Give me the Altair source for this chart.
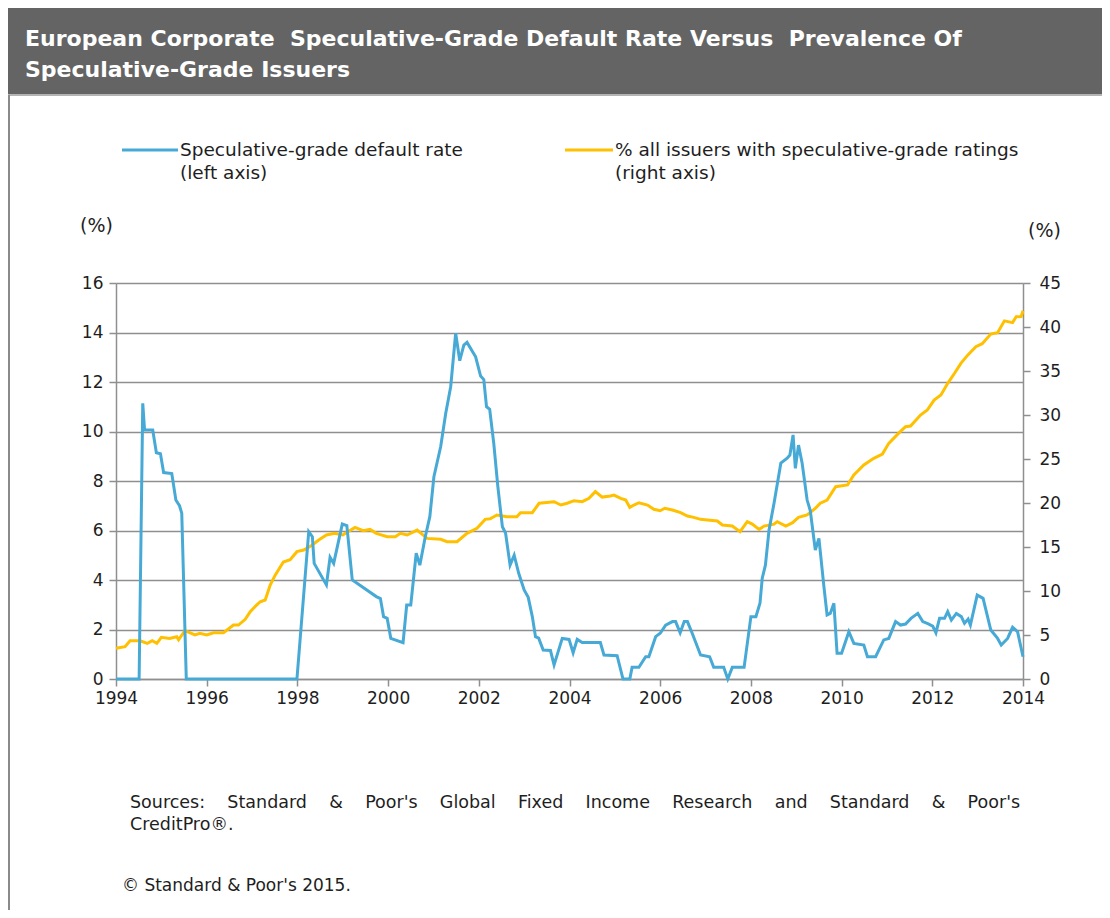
import altair as alt
import pandas as pd

FONT = "DejaVu Sans"
NB = "\u00a0"

TITLE_LINES = [
    "European Corporate" + NB + " Speculative-Grade Default Rate Versus" + NB + " Prevalence Of",
    "Speculative-Grade Issuers",
]
SERIES_LABELS = [
    "Speculative-grade default rate\n(left axis)",
    "% all issuers with speculative-grade ratings\n(right axis)",
]
SOURCE_WORDS = ["Sources:", "Standard", "&", "Poor's", "Global", "Fixed", "Income",
                "Research", "and", "Standard", "&", "Poor's"]
SOURCE_LINE2 = "CreditPro®."
COPYRIGHT_TEXT = "© Standard & Poor's 2015."
AXIS_UNIT = "(%)"

X_TICKS = list(range(1994, 2015, 2))
LEFT_TICKS = list(range(0, 17, 2))
RIGHT_TICKS = list(range(0, 46, 5))

default_year = [
    1994.0, 1994.51, 1994.59, 1994.63, 1994.81, 1994.89, 1994.98, 1995.05, 1995.23, 1995.32,
    1995.4, 1995.45, 1995.55, 1997.99, 1998.25, 1998.33, 1998.37, 1998.64, 1998.72, 1998.8,
    1998.99, 1999.09, 1999.21, 1999.74, 1999.83, 1999.9, 1999.98, 2000.06, 2000.33, 2000.41,
    2000.5, 2000.62, 2000.7, 2000.82, 2000.92, 2001.01, 2001.16, 2001.27, 2001.38, 2001.49,
    2001.58, 2001.67, 2001.74, 2001.93, 2002.04, 2002.11, 2002.17, 2002.24, 2002.33, 2002.42,
    2002.52, 2002.59, 2002.69, 2002.78, 2002.88, 2003.0, 2003.09, 2003.18, 2003.25, 2003.32,
    2003.42, 2003.58, 2003.66, 2003.84, 2003.99, 2004.08, 2004.17, 2004.28, 2004.68, 2004.76,
    2005.05, 2005.18, 2005.33, 2005.38, 2005.53, 2005.68, 2005.75, 2005.9, 2006.0, 2006.12,
    2006.27, 2006.34, 2006.44, 2006.53, 2006.6, 2006.71, 2006.89, 2007.09, 2007.18, 2007.4,
    2007.49, 2007.59, 2007.85, 2008.0, 2008.11, 2008.2, 2008.25, 2008.32, 2008.4, 2008.51,
    2008.66, 2008.8, 2008.86, 2008.93, 2008.98, 2009.05, 2009.13, 2009.24, 2009.31, 2009.42,
    2009.5, 2009.61, 2009.68, 2009.75, 2009.83, 2009.9, 2010.0, 2010.16, 2010.27, 2010.49,
    2010.57, 2010.75, 2010.93, 2011.04, 2011.19, 2011.3, 2011.41, 2011.53, 2011.68, 2011.79,
    2011.9, 2012.01, 2012.08, 2012.16, 2012.27, 2012.34, 2012.42, 2012.53, 2012.64, 2012.71,
    2012.79, 2012.84, 2012.99, 2013.12, 2013.29, 2013.44, 2013.52, 2013.66, 2013.77, 2013.88,
    2014.0,
]
default_rate = [
    0, 0, 11.14, 10.06, 10.06, 9.14, 9.1, 8.34, 8.3, 7.23,
    7.0, 6.7, 0, 0, 5.95, 5.75, 4.67, 3.8, 4.92, 4.67,
    6.26, 6.2, 4.0, 3.33, 3.25, 2.52, 2.45, 1.64, 1.47, 2.99,
    2.99, 5.08, 4.6, 5.75, 6.56, 8.17, 9.39, 10.73, 11.81, 13.97,
    12.86, 13.49, 13.6, 13.02, 12.24, 12.1, 11.0, 10.9, 9.52, 7.77,
    6.15, 5.9, 4.6, 5.0, 4.27, 3.6, 3.3, 2.52, 1.71, 1.65,
    1.17, 1.15, 0.57, 1.64, 1.6, 1.06, 1.6, 1.47, 1.47, 0.97,
    0.94, 0, 0, 0.47, 0.47, 0.9, 0.9, 1.71, 1.85, 2.18,
    2.32, 2.32, 1.87, 2.32, 2.32, 1.83, 0.97, 0.9, 0.47, 0.47,
    0, 0.47, 0.47, 2.52, 2.52, 3.06, 4.07, 4.6, 6.02, 7.1,
    8.72, 8.92, 9.05, 9.86, 8.51, 9.45, 8.72, 7.23, 6.8, 5.21,
    5.68, 3.73, 2.59, 2.65, 3.06, 1.04, 1.04, 1.91, 1.44, 1.37,
    0.9, 0.9, 1.58, 1.64, 2.32, 2.18, 2.22, 2.45, 2.65, 2.32,
    2.24, 2.14, 1.87, 2.45, 2.45, 2.72, 2.38, 2.65, 2.52, 2.25,
    2.42, 2.18, 3.39, 3.26, 1.98, 1.64, 1.37, 1.64, 2.09, 1.91,
    0.9,
]

spec_year = [
    1994.0, 1994.2, 1994.31, 1994.53, 1994.69, 1994.8, 1994.9, 1995.0, 1995.18, 1995.34,
    1995.38, 1995.52, 1995.74, 1995.85, 1996.0, 1996.15, 1996.37, 1996.59, 1996.7, 1996.85,
    1996.96, 1997.1, 1997.18, 1997.29, 1997.4, 1997.51, 1997.69, 1997.84, 1997.99, 1998.14,
    1998.32, 1998.47, 1998.64, 1998.82, 1999.0, 1999.27, 1999.45, 1999.6, 1999.74, 1999.98,
    2000.16, 2000.27, 2000.42, 2000.64, 2000.86, 2001.16, 2001.3, 2001.52, 2001.74, 2001.96,
    2002.14, 2002.25, 2002.4, 2002.62, 2002.84, 2002.92, 2003.18, 2003.33, 2003.66, 2003.81,
    2003.95, 2004.1, 2004.28, 2004.43, 2004.57, 2004.72, 2004.9, 2004.98, 2005.13, 2005.24,
    2005.33, 2005.42, 2005.53, 2005.72, 2005.86, 2006.0, 2006.1, 2006.27, 2006.45, 2006.6,
    2006.74, 2006.89, 2007.04, 2007.26, 2007.37, 2007.59, 2007.76, 2007.92, 2008.03, 2008.18,
    2008.29, 2008.51, 2008.58, 2008.77, 2008.92, 2009.05, 2009.24, 2009.42, 2009.53, 2009.68,
    2009.87, 2010.13, 2010.27, 2010.49, 2010.71, 2010.9, 2011.04, 2011.27, 2011.41, 2011.52,
    2011.74, 2011.89, 2012.04, 2012.19, 2012.34, 2012.49, 2012.63, 2012.78, 2012.96, 2013.1,
    2013.29, 2013.44, 2013.59, 2013.77, 2013.85, 2013.96, 2014.0,
]
spec_share = [
    3.49, 3.67, 4.35, 4.35, 4.05, 4.35, 4.05, 4.74, 4.6, 4.8,
    4.45, 5.49, 5.0, 5.2, 5.0, 5.26, 5.26, 6.13, 6.13, 6.78,
    7.65, 8.4, 8.78, 8.98, 10.68, 11.8, 13.3, 13.55, 14.47, 14.66,
    15.2, 15.8, 16.36, 16.55, 16.36, 17.23, 16.86, 17.0, 16.55, 16.17,
    16.17, 16.55, 16.36, 16.92, 15.98, 15.87, 15.6, 15.6, 16.55, 17.12,
    18.14, 18.2, 18.64, 18.44, 18.44, 18.9, 18.9, 19.97, 20.15, 19.77,
    19.97, 20.26, 20.15, 20.53, 21.29, 20.67, 20.8, 20.9, 20.53, 20.34,
    19.5, 19.77, 20.03, 19.77, 19.28, 19.12, 19.4, 19.2, 18.9, 18.52,
    18.37, 18.14, 18.07, 17.95, 17.5, 17.38, 16.74, 17.88, 17.6, 17.0,
    17.38, 17.6, 17.88, 17.38, 17.76, 18.37, 18.64, 19.39, 19.97, 20.34,
    21.85, 22.05, 23.18, 24.32, 25.08, 25.57, 26.78, 27.99, 28.67, 28.75,
    30.0, 30.57, 31.7, 32.27, 33.6, 34.74, 35.87, 36.8, 37.76, 38.1,
    39.2, 39.35, 40.7, 40.5, 41.17, 41.2, 41.85,
]

BLUE = "#47A9D6"
YELLOW = "#FFC000"
GRID = "#8f8f8f"
TEXT = "#1e1e1e"

W, H = 907, 396
PAD = {"left": 108, "top": 275, "right": 79, "bottom": 231}
RIGHT_EDGE = W + PAD["right"]

dfa = pd.DataFrame({"year": default_year, "rate": default_rate})
dfb = pd.DataFrame({"year": spec_year, "share": spec_share})
one = pd.DataFrame({"k": [0]})

x_enc = alt.X(
    "year:Q",
    scale=alt.Scale(domain=[1994, 2014], nice=False, zero=False),
    axis=alt.Axis(values=X_TICKS, format="d", title=None, grid=False,
                  tickSize=7, labelPadding=4, labelFlush=False),
)

yellow = alt.Chart(dfb).mark_line(color=YELLOW, strokeWidth=3).encode(
    x=x_enc,
    y=alt.Y("share:Q", scale=alt.Scale(domain=[0, 45], nice=False),
            axis=alt.Axis(orient="right", values=RIGHT_TICKS, grid=False,
                          title=AXIS_UNIT, titleAngle=0, titleX=21, titleY=-53,
                          titleAlign="center", titleBaseline="middle",
                          tickSize=7, labelPadding=9, labelFlush=False)),
)

blue = alt.Chart(dfa).mark_line(color=BLUE, strokeWidth=3).encode(
    x=x_enc,
    y=alt.Y("rate:Q", scale=alt.Scale(domain=[0, 16], nice=False),
            axis=alt.Axis(orient="left", values=LEFT_TICKS, grid=True,
                          title=AXIS_UNIT, titleAngle=0, titleX=-20, titleY=-58,
                          titleAlign="center", titleBaseline="middle",
                          tickSize=7, labelPadding=6, labelFlush=False)),
)

banner = alt.Chart(one).mark_rect(color="#646464").encode(
    x=alt.value(-108), x2=alt.value(RIGHT_EDGE),
    y=alt.value(-275), y2=alt.value(-189),
)
banner_edge = alt.Chart(one).mark_rule(color="#b4b4b4", strokeWidth=2).encode(
    x=alt.value(-108), x2=alt.value(RIGHT_EDGE), y=alt.value(-188),
)
left_border = alt.Chart(one).mark_rule(color="#8a8a8a", strokeWidth=2).encode(
    x=alt.value(-107), y=alt.value(-188), y2=alt.value(H + PAD["bottom"]),
)

def text_layer(txt, x, y, size, color=TEXT, weight="normal", line_height=None):
    kw = dict(text=txt, font=FONT, fontSize=size, fontWeight=weight, color=color,
              align="left", baseline="alphabetic")
    if line_height is not None:
        kw.update(lineBreak="\n", lineHeight=line_height)
    return alt.Chart(one).mark_text(**kw).encode(x=alt.value(x), y=alt.value(y))

title1 = text_layer(TITLE_LINES[0], -91, -237, 22, color="white", weight="bold")
title2 = text_layer(TITLE_LINES[1], -91, -206, 22, color="white", weight="bold")

leg_blue_line = alt.Chart(one).mark_rule(color=BLUE, strokeWidth=3).encode(
    x=alt.value(6), x2=alt.value(62), y=alt.value(-133))
leg_blue_text = text_layer(SERIES_LABELS[0], 64, -127, 18.5, line_height=23)
leg_yel_line = alt.Chart(one).mark_rule(color=YELLOW, strokeWidth=3).encode(
    x=alt.value(449), x2=alt.value(497), y=alt.value(-133))
leg_yel_text = text_layer(SERIES_LABELS[1], 499, -127, 18.5, line_height=23)

source_text = (" " + NB * 3).join(SOURCE_WORDS) + "\n" + SOURCE_LINE2
source = text_layer(source_text, 14, 525, 17.5, line_height=22)
copyright_ = text_layer(COPYRIGHT_TEXT, 6, 608, 17)

chart = alt.layer(
    banner, banner_edge, left_border, title1, title2,
    leg_blue_line, leg_blue_text, leg_yel_line, leg_yel_text,
    source, copyright_, yellow, blue,
).resolve_scale(y="independent").properties(
    width=W, height=H, padding=PAD,
    autosize=alt.AutoSizeParams(type="none"),
).configure_view(stroke=None).configure(
    background="white",
).configure_axis(
    labelFont=FONT, labelFontSize=17, labelColor=TEXT,
    titleFont=FONT, titleFontSize=19, titleColor=TEXT, titleFontWeight="normal",
    domainColor=GRID, domainWidth=1.5, tickColor=GRID, tickWidth=1.5,
    gridColor=GRID, gridWidth=1.5, gridOpacity=1,
)

chart.save("out.html", embed_options={"renderer": "svg", "actions": False})
